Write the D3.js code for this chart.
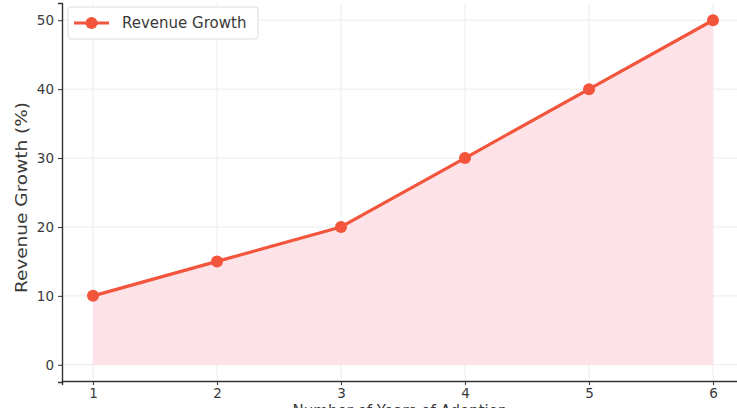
<!DOCTYPE html>
<html>
<head>
<meta charset="utf-8">
<script src="https://cdn.jsdelivr.net/npm/d3@7"></script>
<style>
  html, body { margin: 0; padding: 0; background: #fff; }
  svg { display: block; }
  text { font-family: "DejaVu Sans", sans-serif; }
</style>
</head>
<body>
<svg id="chart" width="737" height="408"></svg>
<script>
// Years in program vs. revenue growth
const years = [1, 2, 3, 4, 5, 6];
const growth = [10, 15, 20, 30, 40, 50];
const yTicks = [0, 10, 20, 30, 40, 50];
const seriesName = "Revenue Growth";
const yLabel = "Revenue Growth (%)";
const xLabel = "Number of Years of Adoption";

const svg = d3.select("#chart");

const x = d3.scaleLinear().domain([0.75, 6.25]).range([62, 744]);
const y = d3.scaleLinear().domain([-2.5, 52.5]).range([382, 3]);

const lineColor = "#f2553c";
const fillColor = "#fde3e8";
const textColor = "#3a3a3a";

// grid
const grid = svg.append("g");
grid.selectAll("line.gy").data(yTicks).join("line")
  .attr("x1", 62).attr("x2", 744)
  .attr("y1", d => y(d)).attr("y2", d => y(d))
  .attr("stroke", "#ececec").attr("stroke-width", 1);
grid.selectAll("line.gx").data(years).join("line")
  .attr("x1", d => x(d)).attr("x2", d => x(d))
  .attr("y1", 3).attr("y2", 382)
  .attr("stroke", "#ececec").attr("stroke-width", 1);

// filled area under the line
const area = d3.area().x((d, i) => x(years[i])).y0(y(0)).y1(d => y(d));
svg.append("path").datum(growth).attr("d", area).attr("fill", fillColor);

// line + markers
const line = d3.line().x((d, i) => x(years[i])).y(d => y(d));
svg.append("path").datum(growth).attr("d", line)
  .attr("fill", "none").attr("stroke", lineColor).attr("stroke-width", 3.2)
  .attr("stroke-linejoin", "round");
svg.selectAll("circle.pt").data(growth).join("circle")
  .attr("cx", (d, i) => x(years[i])).attr("cy", d => y(d))
  .attr("r", 6).attr("fill", lineColor);

// axes
const yAxis = svg.append("g").attr("transform", "translate(62,0)")
  .call(d3.axisLeft(y).tickValues(yTicks).tickFormat(d3.format("d")).tickSize(4).tickPadding(4));
const xAxis = svg.append("g").attr("transform", "translate(0,381)")
  .call(d3.axisBottom(x).tickValues(years).tickFormat(d3.format("d")).tickSize(4).tickPadding(3));
[yAxis, xAxis].forEach(a => {
  a.select(".domain").attr("stroke", "#333").attr("stroke-width", 1.4);
  a.selectAll(".tick line").attr("stroke", "#333");
  a.selectAll(".tick text").attr("fill", textColor).style("font-size", "13.5px")
    .style("font-family", "DejaVu Sans, sans-serif");
});

// axis titles
svg.append("text").attr("transform", `translate(22,${y(25) + 5}) rotate(-90) scale(1,0.85)`)
  .attr("text-anchor", "middle").attr("dominant-baseline", "middle")
  .attr("fill", textColor).style("font-size", "18.5px").text(yLabel);
svg.append("text").attr("x", 400).attr("y", 416)
  .attr("text-anchor", "middle").attr("fill", textColor).style("font-size", "15px").text(xLabel);

// legend
const lg = svg.append("g").attr("transform", "translate(68,7)");
lg.append("rect").attr("width", 190).attr("height", 32).attr("rx", 3)
  .attr("fill", "#fff").attr("fill-opacity", 0.85).attr("stroke", "#dcdcdc");
lg.append("line").attr("x1", 6).attr("x2", 41).attr("y1", 16).attr("y2", 16)
  .attr("stroke", lineColor).attr("stroke-width", 3.2);
lg.append("circle").attr("cx", 23.5).attr("cy", 16).attr("r", 6).attr("fill", lineColor);
lg.append("text").attr("x", 54).attr("y", 16).attr("dominant-baseline", "central")
  .attr("fill", textColor).style("font-size", "15px").text(seriesName);
</script>
</body>
</html>
